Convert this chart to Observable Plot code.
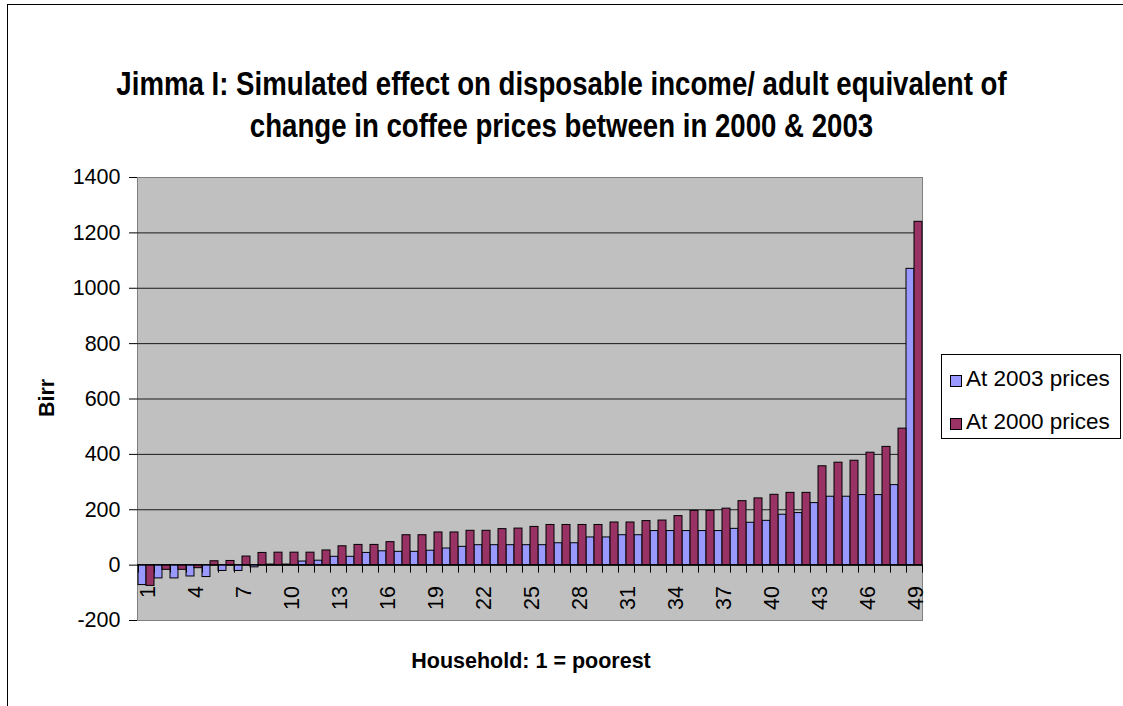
<!DOCTYPE html>
<html>
<head>
<meta charset="utf-8">
<script src="https://cdn.jsdelivr.net/npm/d3@7"></script>
<script src="https://cdn.jsdelivr.net/npm/@observablehq/plot@0.6"></script>
<style>
  html, body { margin: 0; padding: 0; background: #fff; overflow: hidden; width: 1123px; height: 706px; }
  #page { position: relative; width: 1123px; height: 706px; overflow: hidden; background: #fff;
          font-family: "Liberation Sans", Arial, sans-serif; color: #000; }
  #border { position: absolute; left: 7px; top: 4px; width: 1116px; height: 702px;
            border-left: 1px solid #000; border-top: 1px solid #000; }
  #chart { position: absolute; left: 0; top: 0; width: 1123px; height: 706px; }
  #chart svg { display: block; max-width: none; }
  #title { position: absolute; left: 0; top: 63px; width: 1123px; text-align: center;
           font-weight: bold; font-size: 32.5px; line-height: 42px; white-space: nowrap; }
  #title div { display: block; transform: scaleX(0.85); transform-origin: 50% 50%; }
  #ylabel { position: absolute; left: 47px; top: 398px; font-weight: bold; font-size: 21.5px;
            transform: translate(-50%, -50%) rotate(-90deg); white-space: nowrap; }
  #xlabel { position: absolute; left: 531px; top: 661px; font-weight: bold; font-size: 21.5px;
            transform: translate(-50%, -50%); white-space: nowrap; }
  #legend { position: absolute; left: 941px; top: 354px; width: 180px; height: 85px;
            border: 1px solid #000; box-sizing: border-box; background: #fff; }
  .item { position: absolute; left: 8px; font-size: 22.5px; line-height: 24px; white-space: nowrap; }
  .sw { display: inline-block; width: 12px; height: 12px; border: 1px solid #000;
        box-sizing: border-box; margin-right: 4px; vertical-align: -1px; }
</style>
</head>
<body>
<div id="page">
  <div id="border"></div>
  <div id="chart"></div>
  <div id="title">
    <div>Jimma I: Simulated effect on disposable income/ adult equivalent of</div>
    <div>change in coffee prices between in 2000 &amp; 2003</div>
  </div>
  <div id="ylabel">Birr</div>
  <div id="xlabel">Household: 1 = poorest</div>
  <div id="legend"></div>
</div>
<script>
// Households ranked from poorest (1) to richest (49)
const households = [
  1, 2, 3, 4, 5, 6, 7, 8, 9, 10, 11, 12, 13, 14, 15, 16, 17, 18, 19, 20,
  21, 22, 23, 24, 25, 26, 27, 28, 29, 30, 31, 32, 33, 34, 35, 36, 37, 38, 39, 40,
  41, 42, 43, 44, 45, 46, 47, 48, 49
];

// Simulated effect on disposable income per adult equivalent (Birr)
const at2003Prices = [
  -72, -48, -48, -41, -43, -21, -21, -8, 2, 2, 13, 16, 30, 30, 44, 50, 48, 48, 52, 60,
  66, 72, 72, 72, 72, 72, 79, 79, 100, 100, 108, 108, 123, 123, 123, 123, 123, 131, 153, 160,
  182, 188, 224, 247, 247, 253, 253, 289, 1070
];
const at2000Prices = [
  -75, -17, -17, -11, 14, 15, 31, 44, 45, 45, 45, 53, 68, 73, 73, 83, 108, 108, 118, 118,
  124, 124, 130, 132, 138, 145, 145, 145, 145, 154, 154, 159, 161, 177, 196, 196, 204, 231, 241, 254,
  261, 261, 357, 370, 377, 406, 427, 493, 1240
];

// Axis ticks
const yTicks = [-200, 0, 200, 400, 600, 800, 1000, 1200, 1400];
const xTickLabels = [1, 4, 7, 10, 13, 16, 19, 22, 25, 28, 31, 34, 37, 40, 43, 46, 49];

const series = [
  {name: "At 2003 prices", color: "#9999ff"},
  {name: "At 2000 prices", color: "#993366"}
];

const rows = households.map((h, i) => ({household: h, at2003: at2003Prices[i], at2000: at2000Prices[i]}));

const width = 1123, height = 706;
const margin = {left: 137, right: 201, top: 177, bottom: 86};
const halfBand = (width - margin.left - margin.right) / households.length / 2;

const chart = Plot.plot({
  width, height,
  marginLeft: margin.left, marginRight: margin.right,
  marginTop: margin.top, marginBottom: margin.bottom,
  style: {fontFamily: "'Liberation Sans', Arial, sans-serif", fontSize: "21.5px",
          background: "transparent", color: "#000", overflow: "visible"},
  x: {type: "band", domain: households, padding: 0, axis: null},
  y: {domain: [-200, 1400], ticks: yTicks, tickSize: 8, tickPadding: 9,
      tickFormat: d => String(d), label: null, line: true},
  marks: [
    Plot.frame({fill: "#c0c0c0", stroke: "#808080"}),
    // horizontal gridlines
    Plot.ruleY(yTicks.filter(t => t !== -200 && t !== 1400), {stroke: "#1a1a1a", strokeWidth: 1}),
    // paired bars inside each household band
    Plot.barY(rows, {x: "household", y: "at2003", fill: series[0].color,
                     stroke: "#000", strokeWidth: 1, insetRight: halfBand}),
    Plot.barY(rows, {x: "household", y: "at2000", fill: series[1].color,
                     stroke: "#000", strokeWidth: 1, insetLeft: halfBand}),
    // category axis crossing at zero
    Plot.ruleY([0], {stroke: "#000", strokeWidth: 1}),
    Plot.ruleX(households, {x: d => d, y1: () => 0, y2: () => 0, dx: -halfBand,
                            insetBottom: -8, stroke: "#000"}),
    Plot.ruleX(households.slice(-1), {x: d => d, y1: () => 0, y2: () => 0, dx: halfBand,
                            insetBottom: -8, stroke: "#000"}),
    Plot.text(xTickLabels, {x: d => d, y: () => 0, text: d => String(d), rotate: -90,
                            textAnchor: "end", dy: 21, dx: 1.5, fontSize: 21.5, fill: "#000"})
  ]
});
document.getElementById("chart").appendChild(chart);

// Legend
const legend = document.getElementById("legend");
series.forEach((s, i) => {
  const item = document.createElement("div");
  item.className = "item";
  item.style.top = (12 + i * 43) + "px";
  const sw = document.createElement("span");
  sw.className = "sw";
  sw.style.background = s.color;
  item.appendChild(sw);
  item.appendChild(document.createTextNode(s.name));
  legend.appendChild(item);
});
</script>
</body>
</html>
